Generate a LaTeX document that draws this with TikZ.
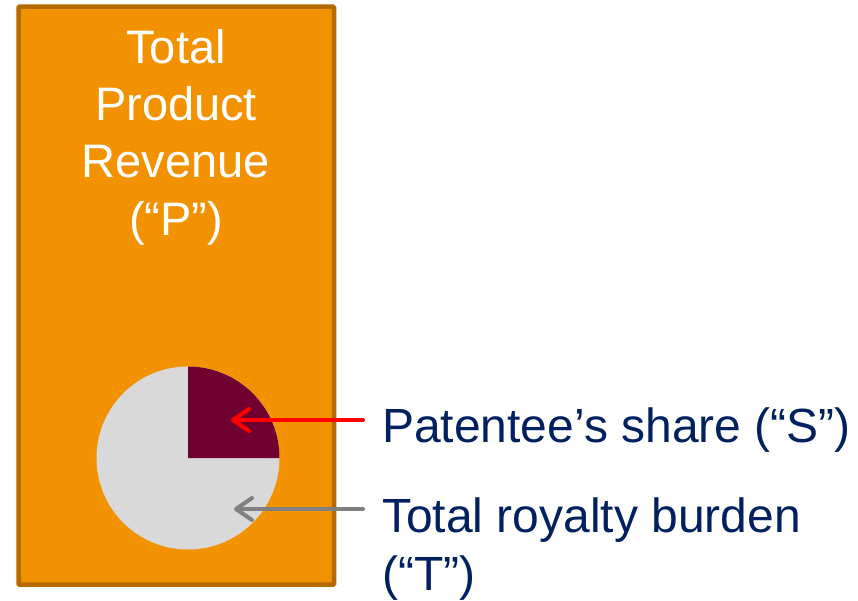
\documentclass[tikz,border=0pt]{standalone}
\usepackage{fontspec}
\setmainfont{Liberation Sans}
\usetikzlibrary{arrows.meta}
\definecolor{revfill}{RGB}{243,146,0}
\definecolor{revedge}{RGB}{181,106,0}
\definecolor{piegray}{RGB}{217,217,217}
\definecolor{sharewedge}{RGB}{112,0,48}
\definecolor{navy}{RGB}{0,32,96}
\definecolor{arrowgray}{RGB}{128,128,128}
\tikzset{
  revbox/.style={fill=revfill, draw=revedge, line width=4.5pt, rounded corners=1pt},
  titletext/.style={font=\fontsize{47}{57.3}\selectfont, inner sep=0pt},
  labeltext/.style={font=\fontsize{48}{58}\selectfont, inner sep=0pt},
  pointer/.style={line width=4pt, line cap=round,
    -{Straight Barb[length=16pt,width=22pt,line cap=round,line join=round]}},
}
\begin{document}
\begin{tikzpicture}[x=1pt,y=1pt]
  \useasboundingbox (0,0) rectangle (858,-600);
  % revenue bar
  \draw[revbox] (18.5,-6.7) rectangle (334,-584.7);
  \node[titletext, text=white, align=center, anchor=base] (rev) at (176,-235)
    {Total\\Product\\Revenue\\(“P”)};
  % pie of royalties
  \coordinate (pc) at (188,-458);
  \fill[piegray] (pc) circle[radius=91.5];
  \fill[sharewedge] (pc) -- ++(0,91.5) arc[start angle=90,end angle=0,radius=91.5] -- cycle;
  % labels
  \node[labeltext, text=navy, anchor=base west] (slab) at (382,-442) {Patentee’s share (“S”)};
  \node[labeltext, text=navy, align=left, anchor=base west] (tlab) at (382,-590)
    {Total royalty burden\\(“T”)};
  % pointers
  \coordinate (sTail) at (363,-420);
  \coordinate (sTip) at (231,-420);
  \coordinate (tTail) at (363,-509);
  \coordinate (tTip) at (234,-509);
  \draw[pointer, red] (sTail) -- (sTip);
  \draw[pointer, arrowgray] (tTail) -- (tTip);
\end{tikzpicture}
\end{document}
